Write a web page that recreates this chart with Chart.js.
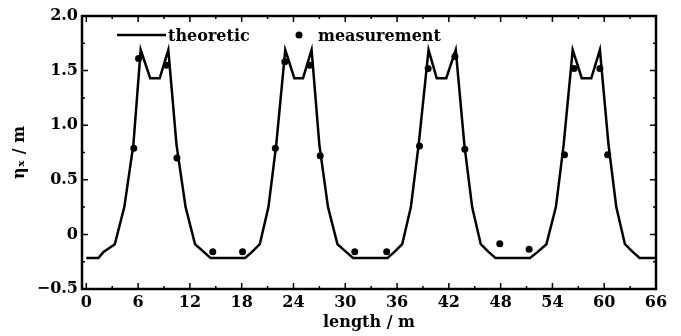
<!DOCTYPE html>
<html>
<head>
<meta charset="utf-8">
<script src="https://cdn.jsdelivr.net/npm/chart.js@4.4.0/dist/chart.umd.min.js"></script>
<style>
  html, body { margin: 0; padding: 0; background: #fff; }
</style>
</head>
<body>
<canvas id="chart" width="681" height="336"></canvas>
<script>
// theoretic dispersion curve (length in m, eta_x in m)
const curveX = [0, 1.4, 2.0, 3.3, 4.4, 5.45, 6.3, 7.4, 8.5, 9.5, 10.45, 11.5, 12.6, 13.6, 14.4,
  18.4, 19.2, 20.1, 21.1, 22.0, 23.05, 24.1, 25.1, 26.1, 27.0, 28.0, 29.1, 30.1, 30.9,
  34.9, 35.7, 36.6, 37.6, 38.5, 39.65, 40.6, 41.7, 42.8, 43.8, 44.7, 45.7, 46.6, 47.4,
  51.4, 52.3, 53.3, 54.4, 55.3, 56.35, 57.4, 58.5, 59.5, 60.5, 61.4, 62.4, 63.3, 64.1, 66];
const curveY = [-0.215, -0.215, -0.16, -0.09, 0.25, 0.82, 1.69, 1.43, 1.43, 1.69, 0.82, 0.25, -0.09, -0.16, -0.215,
  -0.215, -0.16, -0.09, 0.25, 0.82, 1.69, 1.43, 1.43, 1.69, 0.82, 0.25, -0.09, -0.16, -0.215,
  -0.215, -0.16, -0.09, 0.25, 0.82, 1.69, 1.43, 1.43, 1.69, 0.82, 0.25, -0.09, -0.16, -0.215,
  -0.215, -0.16, -0.09, 0.25, 0.82, 1.69, 1.43, 1.43, 1.69, 0.82, 0.25, -0.09, -0.16, -0.215, -0.215];

// measured points
const measX = [5.5, 6.05, 9.3, 10.5, 14.65, 18.1, 21.9, 23.0, 25.9, 27.1, 31.1, 34.8,
  38.6, 39.6, 42.7, 43.85, 47.9, 51.3, 55.4, 56.5, 59.5, 60.4];
const measY = [0.79, 1.61, 1.55, 0.70, -0.16, -0.16, 0.79, 1.58, 1.55, 0.72, -0.16, -0.16,
  0.81, 1.52, 1.63, 0.78, -0.086, -0.136, 0.73, 1.52, 1.52, 0.73];

const xTicks = [0, 6, 12, 18, 24, 30, 36, 42, 48, 54, 60, 66];
const yTicks = [-0.5, 0, 0.5, 1.0, 1.5, 2.0];

const FONT = 'DejaVu Serif';

// frame, inward ticks and legend
const framePlugin = {
  id: 'frame',
  afterDraw(chart) {
    const { ctx, chartArea: { left, right, top, bottom }, scales: { x, y } } = chart;
    ctx.save();
    ctx.strokeStyle = '#000';
    ctx.lineWidth = 1.5;
    ctx.beginPath();
    for (let v = 0; v <= 66; v += 3) {
      const px = x.getPixelForValue(v);
      const len = v % 6 === 0 ? 6 : 3;
      ctx.moveTo(px, bottom); ctx.lineTo(px, bottom - len);
      ctx.moveTo(px, top); ctx.lineTo(px, top + len);
    }
    for (let v = -0.5; v <= 2.001; v += 0.25) {
      const py = y.getPixelForValue(v);
      const len = Math.abs(v * 2 - Math.round(v * 2)) < 0.01 ? 6 : 3;
      ctx.moveTo(left, py); ctx.lineTo(left + len, py);
      ctx.moveTo(right, py); ctx.lineTo(right - len, py);
    }
    ctx.stroke();
    ctx.lineWidth = 2.5;
    ctx.strokeRect(left, top, right - left, bottom - top);

    // legend
    ctx.fillStyle = '#000';
    ctx.font = 'bold 16px "' + FONT + '"';
    ctx.textBaseline = 'alphabetic';
    ctx.beginPath();
    ctx.lineWidth = 2.5;
    ctx.moveTo(117, 35); ctx.lineTo(166, 35);
    ctx.stroke();
    ctx.fillText('theoretic', 168, 41);
    ctx.beginPath();
    ctx.arc(299, 35, 3.5, 0, Math.PI * 2);
    ctx.fill();
    ctx.fillText('measurement', 318, 41);
    ctx.restore();
  }
};

new Chart(document.getElementById('chart'), {
  type: 'scatter',
  data: {
    datasets: [
      {
        label: 'measurement',
        data: measX.map((v, i) => ({ x: v, y: measY[i] })),
        pointRadius: 3.5,
        pointBackgroundColor: '#000',
        pointBorderWidth: 0,
        showLine: false
      },
      {
        label: 'theoretic',
        data: curveX.map((v, i) => ({ x: v, y: curveY[i] })),
        showLine: true,
        borderColor: '#000',
        borderWidth: 2.5,
        borderJoinStyle: 'miter',
        pointRadius: 0,
        tension: 0
      }
    ]
  },
  options: {
    responsive: false,
    animation: false,
    layout: { padding: { top: 16, right: 25, left: 0, bottom: 0 } },
    plugins: { legend: { display: false }, tooltip: { enabled: false } },
    scales: {
      x: {
        type: 'linear',
        min: -0.5,
        max: 66,
        afterBuildTicks: s => { s.ticks = xTicks.map(v => ({ value: v })); },
        afterFit: s => { s.height = 47; },
        grid: { display: false, drawTicks: false },
        border: { display: false },
        ticks: { color: '#000', padding: 4, maxRotation: 0, font: { family: FONT, size: 16, weight: 'bold' } },
        title: { display: true, text: 'length / m', color: '#000', padding: { top: 0, bottom: 4 },
          font: { family: FONT, size: 16, weight: 'bold' } }
      },
      y: {
        min: -0.5,
        max: 2.0,
        afterBuildTicks: s => { s.ticks = yTicks.map(v => ({ value: v })); },
        afterFit: s => { s.width = 82; },
        grid: { display: false, drawTicks: false },
        border: { display: false },
        ticks: {
          color: '#000', padding: 4,
          font: { family: FONT, size: 16, weight: 'bold' },
          callback: v => v === 0 ? '0' : (v < 0 ? '\u2212' + Math.abs(v).toFixed(1) : v.toFixed(1))
        },
        title: { display: true, text: 'η\u2093 / m', color: '#000', padding: { top: 10, bottom: 0 },
          font: { family: FONT, size: 16, weight: 'bold' } }
      }
    }
  },
  plugins: [framePlugin]
});
</script>
</body>
</html>
